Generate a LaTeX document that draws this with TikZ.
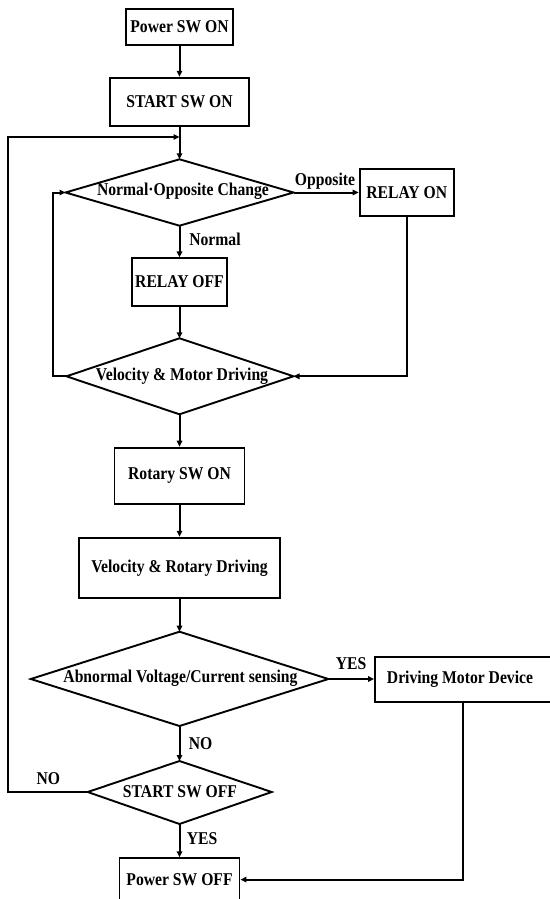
\documentclass[tikz,border=0pt]{standalone}
\usepackage{fontspec}
\setmainfont{Liberation Serif}[FakeStretch=0.87]
\usetikzlibrary{arrows.meta}
\begin{document}
\begin{tikzpicture}[x=1pt,y=-1pt,
  every node/.style={font=\fontsize{18}{20}\selectfont\bfseries},
  box/.style={draw, line width=1.9pt, inner sep=0pt},
  dline/.style={line width=1.9pt},
  arr/.style={line width=2pt, -{Triangle[length=6pt,width=5.5pt]}},
  lbl/.style={inner sep=0pt}]
\useasboundingbox (0,0) rectangle (549,899);

% boxes
\node[box, minimum width=106.5pt, minimum height=36pt] (pwr) at (179.5,27) {Power SW ON};
\node[box, minimum width=139pt, minimum height=48pt] (start) at (179.5,101.7) {START SW ON};
\node[box, minimum width=94.4pt, minimum height=47pt] (relayon) at (406.8,192.5) {RELAY ON};
\node[box, minimum width=94.5pt, minimum height=47.4pt] (relayoff) at (179.5,282) {RELAY OFF};
\node[box, minimum width=130pt, minimum height=56.3pt] (rotary) at (179.5,475.8) {Rotary SW ON};
\node[box, minimum width=201pt, minimum height=60.6pt] (velrot) at (179.5,568) {Velocity \& Rotary Driving};
\node[box, minimum width=177pt, minimum height=45pt] (driving) at (463.5,679.5) {};
\node[lbl] (drivingtxt) at (460,679.5) {Driving Motor Device};
\node[box, minimum width=120pt, minimum height=42.7pt] (pwroff) at (179.5,879.6) {Power SW OFF};

% diamond 1
\node[lbl] (d1) at (183,191) {Normal·Opposite Change};
\coordinate (d1n) at (179.5,159.3);
\coordinate (d1s) at (179.5,225.7);
\coordinate (d1w) at (65.5,192.5);
\coordinate (d1e) at (293.5,192.5);
\draw[dline] (d1n) -- (d1e) -- (d1s) -- (d1w) -- cycle;

% diamond 2
\node[lbl] (d2) at (182,376) {Velocity \& Motor Driving};
\coordinate (d2n) at (179.5,338.3);
\coordinate (d2s) at (179.5,414.3);
\coordinate (d2w) at (66.5,376.3);
\coordinate (d2e) at (293.5,376.3);
\draw[dline] (d2n) -- (d2e) -- (d2s) -- (d2w) -- cycle;

% diamond 3
\node[lbl] (d3) at (180.5,678) {Abnormal Voltage/Current sensing};
\coordinate (d3n) at (179.5,631.7);
\coordinate (d3s) at (179.5,726);
\coordinate (d3w) at (30.8,679);
\coordinate (d3e) at (328.4,679);
\draw[dline] (d3n) -- (d3e) -- (d3s) -- (d3w) -- cycle;

% diamond 4
\node[lbl] (d4) at (180,792) {START SW OFF};
\coordinate (d4n) at (179.5,761);
\coordinate (d4s) at (179.5,824);
\coordinate (d4w) at (87.7,792);
\coordinate (d4e) at (271.7,792);
\draw[dline] (d4n) -- (d4e) -- (d4s) -- (d4w) -- cycle;

% helper coordinates
\coordinate (loopin) at (179.5,137);
\coordinate (outerbot) at (8.3,792);
\coordinate (outertop) at (8.3,137);
\coordinate (innerbot) at (52.7,376.3);
\coordinate (innertop) at (52.7,192.5);
\coordinate (ronbot) at (406.8,376.3);
\coordinate (drvbot) at (463,879.6);
\coordinate (drvtop) at (463,702);

% connectors
\draw[arr] (pwr.south) -- (start.north);
\draw[arr] (start.south) -- (d1n);
\draw[arr] (d4w) -- (outerbot) -- (outertop) -- (loopin);
\draw[arr] (d1e) -- (relayon.west |- d1e);
\draw[arr] (d1s) -- (relayoff.north);
\draw[arr] (relayoff.south) -- (d2n);
\draw[arr] (relayon.south) -- (ronbot) -- (d2e);
\draw[arr] (d2w) -- (innerbot) -- (innertop) -- (d1w);
\draw[arr] (d2s) -- (rotary.north);
\draw[arr] (rotary.south) -- (velrot.north);
\draw[arr] (velrot.south) -- (d3n);
\draw[arr] (d3e) -- (driving.west |- d3e);
\draw[arr] (drvtop) -- (drvbot) -- (pwroff.east);
\draw[arr] (d3s) -- (d4n);
\draw[arr] (d4s) -- (pwroff.north);

% labels
\node[lbl] (lopp) at (325,181) {Opposite};
\node[lbl] (lnorm) at (215,239.3) {Normal};
\node[lbl] (lyes1) at (351,664) {YES};
\node[lbl] (lno1) at (200.5,744) {NO};
\node[lbl] (lyes2) at (202,839) {YES};
\node[lbl] (lno2) at (48.3,779) {NO};
\end{tikzpicture}
\end{document}
